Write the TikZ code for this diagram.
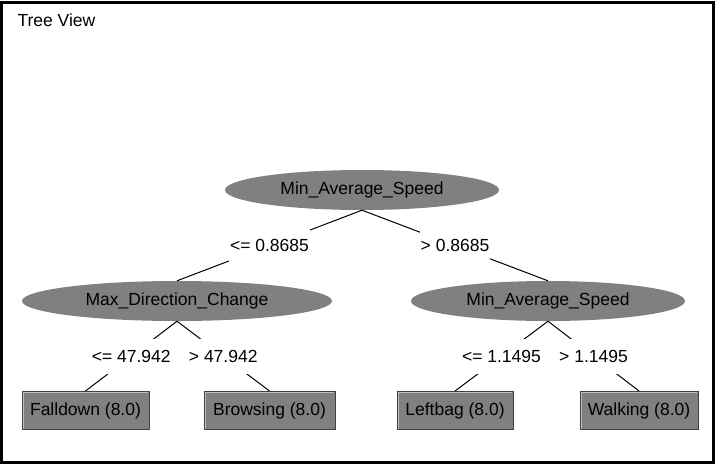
\documentclass[tikz,border=0pt]{standalone}
\usepackage{fontspec}
\setmainfont{Liberation Sans}
\usetikzlibrary{shapes.geometric}
\definecolor{nodegray}{HTML}{808080}
\tikzset{
  every node/.style={font=\fontsize{17.5}{20}\selectfont, text=black},
  split/.style={ellipse, fill=nodegray, inner sep=0pt, minimum height=40pt},
  leaf/.style={rectangle, fill=nodegray, draw=black!75, line width=1pt, inner sep=0pt, minimum height=38pt},
  hl/.style={draw=black!25, line width=1pt},
  conn/.style={draw=black, line width=1pt},
  lbl/.style={fill=white, inner xsep=1pt, inner ysep=0pt, minimum height=35pt}
}
\begin{document}
\begin{tikzpicture}[x=1pt, y=-1pt]
\useasboundingbox (0,0) rectangle (717,464);
\fill[white] (0,0) rectangle (717,464);
\draw[line width=3pt] (1.5,2) rectangle (713,462.5);
\node[anchor=west] (title) at (14,20) {Tree View};

\node[split, minimum width=274pt] (root) at (362,190) {Min\_Average\_Speed};
\node[split, minimum width=310pt] (L) at (177,301) {Max\_Direction\_Change};
\node[split, minimum width=274pt] (R) at (548,301) {Min\_Average\_Speed};

\node[leaf, minimum width=127pt] (fd) at (85.5,410.5) {Falldown (8.0)};
\node[leaf, minimum width=131pt] (br) at (269.5,410.5) {Browsing (8.0)};
\node[leaf, minimum width=116pt] (lb) at (455,410.5) {Leftbag (8.0)};
\node[leaf, minimum width=118pt] (wk) at (639,410.5) {Walking (8.0)};

\foreach \n in {fd,br,lb,wk}{
  \draw[hl] ([shift={(1.5pt,1.5pt)}]\n.south west) -- ([shift={(1.5pt,-1.5pt)}]\n.north west) -- ([shift={(-1.5pt,-1.5pt)}]\n.north east);
}

\draw[conn] (root.south) -- (L.north) node[lbl, midway] (e1) {<= 0.8685};
\draw[conn] (root.south) -- (R.north) node[lbl, midway] (e2) {> 0.8685};
\draw[conn] (L.south) -- (fd.north) node[lbl, midway] (e3) {<= 47.942};
\draw[conn] (L.south) -- (br.north) node[lbl, midway] (e4) {> 47.942};
\draw[conn] (R.south) -- (lb.north) node[lbl, midway] (e5) {<= 1.1495};
\draw[conn] (R.south) -- (wk.north) node[lbl, midway] (e6) {> 1.1495};
\end{tikzpicture}
\end{document}
